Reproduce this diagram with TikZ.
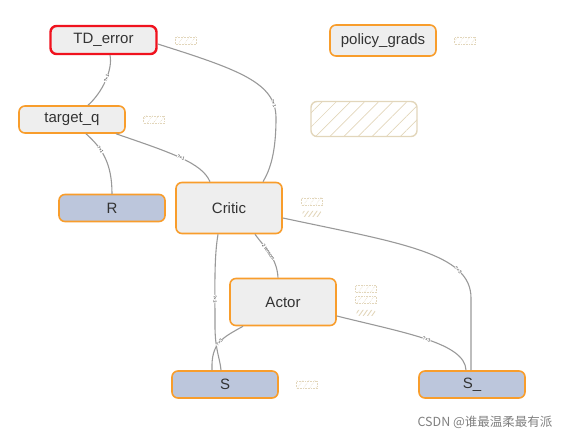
\documentclass[tikz,border=0pt]{standalone}
\usepackage{fontspec}
\setmainfont{Liberation Sans}
\newfontfamily\cjk{Noto Sans CJK SC}
\usetikzlibrary{patterns, patterns.meta, positioning}

\definecolor{opborder}{HTML}{F89D2C}
\definecolor{opfill}{HTML}{EEEEEE}
\definecolor{infill}{HTML}{BCC6DC}
\definecolor{errborder}{HTML}{F0121E}
\definecolor{edgegray}{HTML}{999999}
\definecolor{tan}{HTML}{E2D6BB}
\definecolor{optext}{HTML}{333333}

\begin{document}
\begin{tikzpicture}[x=1pt, y=1pt,
  opnode/.style={draw=opborder, line width=1.6pt, rounded corners=6pt, fill=opfill,
    minimum width=106pt, minimum height=27pt, text=optext, font=\fontsize{15}{17}\selectfont},
  inputnode/.style={opnode, fill=infill},
  badge/.style={draw=tan, densely dotted, line width=0.6pt,
    pattern={Lines[angle=55, distance=5pt, line width=0.5pt]}, pattern color=tan,
    minimum width=21pt, minimum height=7pt, inner sep=0pt},
  badgeb/.style={pattern={Lines[angle=55, distance=3.5pt, line width=0.9pt]}, pattern color=tan,
    rounded corners=2pt, minimum width=19pt, minimum height=6pt, inner sep=0pt},
  edge/.style={draw=edgegray, line width=1.1pt},
  shapelbl/.style={sloped, fill=white, font=\fontsize{4.5}{5}\selectfont, text=black!80, inner sep=0.3pt},
]
\useasboundingbox (0,0) rectangle (570,438);

% operations
\node[opnode, draw=errborder, line width=2.4pt, minimum height=28pt] (tderr) at (103.5,398) {TD\_error};
\node[opnode, minimum height=31pt] (pgrads) at (383,397.5) {policy\_grads};
\node[opnode] (tq) at (72,318.5) {target\_q};
\node[opnode, minimum height=51pt] (critic) at (229,230) {Critic};
\node[opnode, minimum height=47pt] (actor) at (283,136) {Actor};

% inputs
\node[inputnode] (rew) at (112,230) {R};
\node[inputnode] (st) at (225,53.5) {S};
\node[inputnode] (stn) at (472,53.5) {S\_};

% empty group
\node[draw=tan, line width=1.4pt, rounded corners=6pt,
  pattern={Lines[angle=45, distance=10pt, line width=0.7pt]}, pattern color=tan,
  minimum width=106pt, minimum height=35pt] (grp) at (364,319) {};

% badges
\node[badge] (b1) at (186,397.5) {};
\node[badge] (b2) at (465,397.5) {};
\node[badge] (b3) at (154,318.5) {};
\node[badge] (b4) at (312,236.5) {};
\node[badgeb] (b5) at (312,224) {};
\node[badge] (b6) at (366,149) {};
\node[badge] (b7) at (366,138) {};
\node[badgeb] (b8) at (366,125) {};
\node[badge] (b9) at (307,53.5) {};

% edges
\draw[edge] ([xshift=6.5pt]tderr.south) .. controls (113,368) and (102,345) ..
  node[shapelbl, pos=0.45] {?×1} ([xshift=16pt]tq.north);
\draw[edge] ([yshift=-4pt]tderr.east) .. controls (240,368) and (276,355) ..
  node[shapelbl, pos=0.85] {?×1} (276,320) .. controls (276,285) and (270,268) .. ([xshift=34pt]critic.north);
\draw[edge] ([xshift=14pt]tq.south) .. controls (102,290) and (112,275) ..
  node[shapelbl, pos=0.35] {?×1} ([yshift=-0.1pt]rew.north);
\draw[edge] ([xshift=44pt]tq.south) .. controls (172,285) and (202,275) ..
  node[shapelbl, pos=0.5] {?×1} ([xshift=-19pt]critic.north);
\draw[edge] ([xshift=-11pt]critic.south) .. controls (214,180) and (215,150) ..
  (215,112) node[shapelbl, pos=0.75] {?×3} .. controls (215,88) and (220,80) .. ([xshift=-4pt]st.north);
\draw[edge] ([xshift=26pt]critic.south) .. controls (265,190) and (277,180) ..
  node[shapelbl, pos=0.45] {2 tensors} ([xshift=-5pt]actor.north);
\draw[edge] ([xshift=-40pt]actor.south) .. controls (222,100) and (211,95) ..
  node[shapelbl, pos=0.5] {?×3} ([xshift=-13pt]st.north);
\draw[edge] ([yshift=-10pt]critic.east) .. controls (400,195) and (471,185) ..
  node[shapelbl, pos=0.75] {?×3} (471,140) -- ([xshift=-1pt]stn.north);
\draw[edge] ([yshift=-14pt]actor.east) .. controls (405,105) and (465,95) ..
  node[shapelbl, pos=0.5] {?×3} ([xshift=-6pt]stn.north);

% watermark
\node[font=\cjk\fontsize{12.5}{14}\selectfont, text=black!50] (wm) at (485,16) {CSDN @谁最温柔最有派};
\end{tikzpicture}
\end{document}
